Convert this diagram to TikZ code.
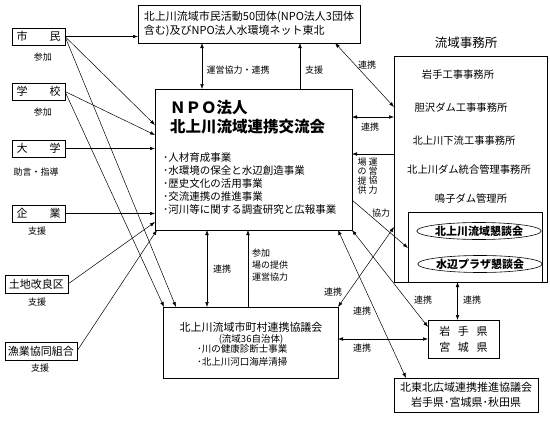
\documentclass[tikz,border=0pt]{standalone}
\usepackage{fontspec}
\setmainfont{Noto Sans CJK JP}
\usetikzlibrary{arrows.meta, shapes.geometric, calc}
\newcommand{\jpfs}[2]{\fontsize{#1}{#2}\selectfont}

\begin{document}
\begin{tikzpicture}[
    x=1pt, y=-1pt,
    box/.style={draw, line width=0.6pt, inner sep=0pt, outer sep=0pt},
    orgbox/.style={box, minimum width=53pt, minimum height=17pt,
                   font=\jpfs{11}{13}},
    role/.style={inner sep=0pt, font=\jpfs{9}{10}},
    lbl/.style={inner sep=0pt, font=\jpfs{9}{10}},
    title/.style={inner sep=0pt, font=\bfseries\jpfs{15.5}{17}},
    office/.style={inner sep=0pt, font=\jpfs{10.3}{12}},
    forumitem/.style={ellipse, draw, line width=0.6pt, inner sep=0pt,
                      minimum width=124pt, minimum height=17pt,
                      font=\bfseries\jpfs{11}{12}},
    arr/.style={-{Latex[length=5pt, width=3.6pt]}, line width=0.5pt},
    darr/.style={{Latex[length=5pt, width=3.6pt]}-{Latex[length=5pt, width=3.6pt]},
                 line width=0.5pt},
]
\useasboundingbox (0,0) rectangle (550,423);

% main organisations
\node[box, minimum width=222pt, minimum height=38pt, anchor=north west,
      align=left, font=\jpfs{11}{14}] (civic) at (138,5)
      {北上川流域市民活動50団体(NPO法人3団体\\含む)及びNPO法人水環境ネット東北};
\node[box, minimum width=197pt, minimum height=141pt, anchor=north west] (npo) at (155,89) {};
\node[title, anchor=west] (nponame) at (170,108) {ＮＰＯ法人};
\node[title, anchor=west] (npofull) at (170,127) {北上川流域連携交流会};
\node[anchor=north west, align=left, inner sep=0pt, font=\jpfs{10.5}{13}] (npoitems) at (163,152)
      {･人材育成事業\\･水環境の保全と水辺創造事業\\･歴史文化の活用事業\\･交流連携の推進事業\\･河川等に関する調査研究と広報事業};

\node[box, minimum width=175pt, minimum height=71pt, anchor=north west] (muni) at (163,307) {};
\node[inner sep=0pt, font=\jpfs{11}{12}] (muniname) at (251,327) {北上川流域市町村連携協議会};
\node[inner sep=0pt, font=\jpfs{9.5}{11}] (municount) at (251,339) {(流域36自治体)};
\node[anchor=north west, align=left, inner sep=0pt, font=\jpfs{9.5}{13}] (munilist) at (197,344)
      {･川の健康診断士事業\\･北上川河口海岸清掃};

% left members
\node[orgbox] (citizen) at (38.5,36.5) {市\hspace{2em}民};
\node[orgbox] (school) at (38.5,91.5) {学\hspace{2em}校};
\node[orgbox] (univ) at (38.5,148.5) {大\hspace{2em}学};
\node[orgbox] (firm) at (38.5,213.5) {企\hspace{2em}業};
\node[orgbox, minimum width=63pt, minimum height=18pt] (landimp) at (36.5,284) {土地改良区};
\node[orgbox, minimum width=72pt, minimum height=18pt] (fishery) at (41,351) {漁業協同組合};

\node[role] at (43,57) {参加};
\node[role] at (43,112) {参加};
\node[role] at (36,172) {助言・指導};
\node[role] at (37,231) {支援};
\node[role] at (37,302) {支援};
\node[role] at (40,368) {支援};

% river offices
\node[inner sep=0pt, font=\jpfs{12.5}{14}] (officetitle) at (466,43) {流域事務所};
\node[box, minimum width=153pt, minimum height=226pt, anchor=north west] (office) at (394,56) {};
\node[office] (iwate) at (458,75) {岩手工事事務所};
\node[office] (isawa) at (461,108) {胆沢ダム工事事務所};
\node[office] (lower) at (464,141) {北上川下流工事事務所};
\node[office] (dam) at (469,170) {北上川ダム統合管理事務所};
\node[office] (naruko) at (471,199) {鳴子ダム管理所};
\node[box, minimum width=134pt, minimum height=70pt, anchor=north west] (forum) at (408,212) {};
\node[forumitem] (forumA) at (479,231) {北上川流域懇談会};
\node[forumitem] (forumB) at (480,264) {水辺プラザ懇談会};

\node[box, minimum width=71pt, minimum height=38pt, anchor=north west,
      align=center, font=\jpfs{11}{16}] (pref) at (428,320)
      {岩\hspace{.7em}手\hspace{.7em}県\\宮\hspace{.7em}城\hspace{.7em}県};
\node[box, minimum width=144pt, minimum height=34pt, anchor=north west,
      align=center, font=\jpfs{11}{15}] (tohoku) at (394,378)
      {北東北広域連携推進協議会\\岩手県･宮城県･秋田県};

% members to centre
\draw[arr] (citizen.east) -- (citizen.east -| civic.west);
\draw[arr] (citizen.east) -- ($(npo.north west)+(0,36)$);
\draw[arr] (citizen.east) -- ($(muni.north west)+(13,0)$);
\draw[arr] (school.east) -- ($(npo.north west)+(0,46)$);
\draw[arr] (school.east) -- ($(muni.north west)+(1,0)$);
\draw[arr] (univ.east) -- (univ.east -| npo.west);
\draw[arr] (firm.east) -- (firm.east -| npo.west);
\draw[arr] (landimp.east) -- ($(npo.south west)+(0,-8)$);
\draw[arr] (fishery.east) -- ($(npo.south west)+(2,0)$);

% centre links
\draw[darr] ($(npo.north west)+(47,0)$) -- ($(npo.north west |- civic.south)+(47,0)$);
\draw[arr] ($(npo.north west)+(145,0)$) -- ($(npo.north west |- civic.south)+(145,0)$);
\draw[darr] ($(civic.south east)+(-25,0)$) -- ($(office.north west)+(0,51)$);
\draw[darr] ($(npo.north east)+(0,28)$) -- ($(npo.north east -| office.west)+(0,28)$);
\draw[arr] ($(npo.north east -| office.west)+(0,65)$) -- ($(npo.north east)+(0,65)$);
\draw[arr] ($(npo.north east)+(0,111)$) -- ($(forum.north west)+(0,36)$);
\draw[darr] (muni.north east) -- ($(office.north west)+(0,171)$);
\draw[darr] (npo.south east) -- ($(pref.west)+(0,-12)$);
\draw[darr] ($(npo.south east)+(-14,0)$) -- ($(tohoku.north west)+(12,0)$);
\draw[darr] (pref.west) -- (pref.west -| muni.east);
\draw[darr] ($(pref.north)+(-6,0)$) -- ($(pref.north |- office.south)+(-6,0)$);
\draw[darr] ($(muni.north west)+(44,0)$) -- ($(muni.north west |- npo.south)+(44,0)$);
\draw[arr] ($(muni.north west)+(85,0)$) -- ($(muni.north west |- npo.south)+(85,0)$);

% link labels
\node[lbl] at (238,70) {運営協力・連携};
\node[lbl] at (314,70) {支援};
\node[lbl] at (367,65) {連携};
\node[lbl] at (370,127) {連携};
\node[lbl, align=center, font=\jpfs{9}{9.3}] (venueV) at (362,176) {場\\の\\提\\供};
\node[lbl, align=center, font=\jpfs{9}{9.3}] (coopV) at (373,176) {運\\営\\協\\力};
\node[lbl] at (381,213) {協力};
\node[lbl] at (222,269) {連携};
\node[lbl, align=left, font=\jpfs{9}{12}] at (270,265) {参加\\場の提供\\運営協力};
\node[lbl] at (333,292) {連携};
\node[lbl] at (362,311) {連携};
\node[lbl] at (362,348) {連携};
\node[lbl] at (423,300) {連携};
\node[lbl] at (472,300) {連携};

\end{tikzpicture}
\end{document}
